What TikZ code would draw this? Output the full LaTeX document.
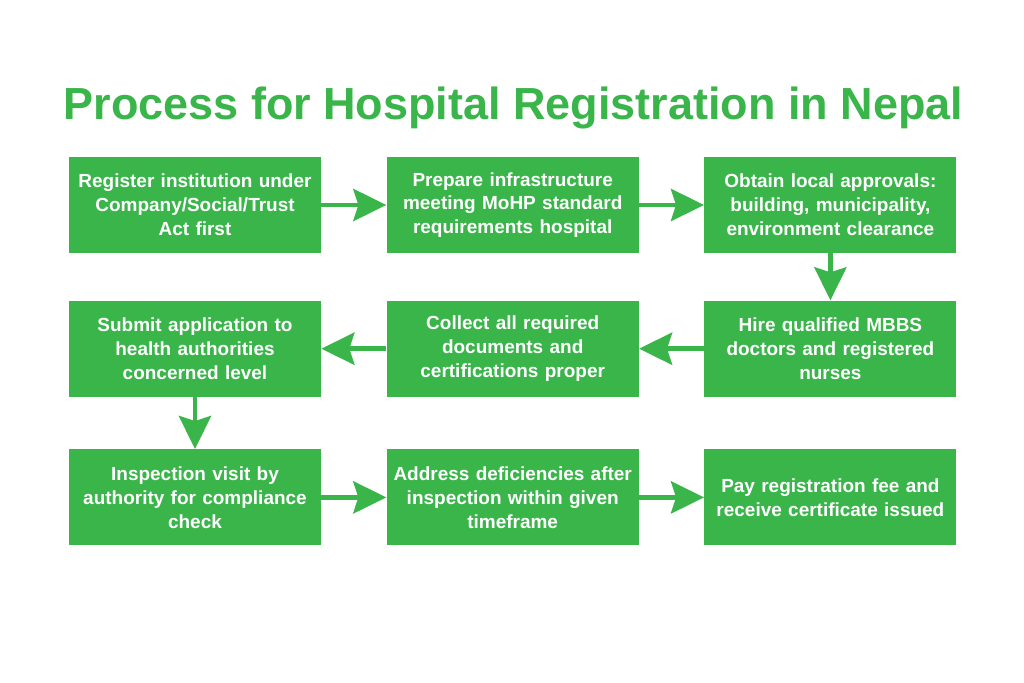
\documentclass[tikz,border=0pt]{standalone}
\usepackage{fontspec}
\setmainfont{Liberation Sans}
\usetikzlibrary{arrows.meta,positioning}
\definecolor{hgreen}{HTML}{39B54A}
\tikzset{
  stepbox/.style={rectangle,fill=hgreen,draw=none,minimum width=5.04cm,minimum height=1.92cm,
    inner xsep=0.08cm,text width=4.88cm,align=center,text=white,font=\fontsize{10.8}{13.6}\selectfont\bfseries},
  arr/.style={-{Stealth[length=6.6mm,width=6.4mm,inset=1mm]},line width=2.8pt,draw=hgreen},
  ttl/.style={text=hgreen,font=\fontsize{25.6}{30}\selectfont\bfseries}
}
\begin{document}
\begin{tikzpicture}[node distance=0.94cm and 1.3cm]
  \useasboundingbox (0,0) rectangle (20.48,-13.66);
  \node[ttl] (title) at (10.27,-2.16) {Process for Hospital Registration in Nepal};

  % row 1
  \node[stepbox] (reg) at (3.9,-4.1) {Register institution under\\Company/Social/Trust\\Act first};
  \node[stepbox, right=of reg] (infra) {Prepare infrastructure\\meeting MoHP standard\\requirements hospital};
  \node[stepbox, right=of infra] (local) {Obtain local approvals:\\building, municipality,\\environment clearance};
  % row 2
  \node[stepbox, below=of local] (hire) {Hire qualified MBBS\\doctors and registered\\nurses};
  \node[stepbox, left=of hire] (docs) {Collect all required\\documents and\\certifications proper};
  \node[stepbox, left=of docs] (submit) {Submit application to\\health authorities\\concerned level};
  % row 3
  \node[stepbox, below=1.04cm of submit] (insp) {Inspection visit by\\authority for compliance\\check};
  \node[stepbox, right=of insp] (fix) {Address deficiencies after\\inspection within given\\timeframe};
  \node[stepbox, right=of fix] (fee) {Pay registration fee and\\receive certificate issued};

  \draw[arr] (reg)--(infra);
  \draw[arr] (infra)--(local);
  \draw[arr] (local)--(hire);
  \draw[arr] (hire)--(docs);
  \draw[arr] (docs)--(submit);
  \draw[arr] (submit)--(insp);
  \draw[arr] (insp)--(fix);
  \draw[arr] (fix)--(fee);
\end{tikzpicture}
\end{document}
